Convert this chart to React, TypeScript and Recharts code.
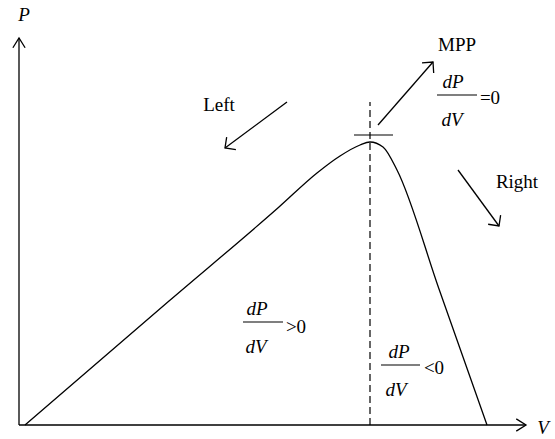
import { LineChart, Line, XAxis, YAxis, ReferenceLine, ReferenceDot } from "recharts";

// P-V curve (V and P in pixel-sized units from the origin)
const curveV = [6, 150, 260, 298, 321, 341, 351, 364, 378, 420, 468];
const curveP = [0, 124, 218, 252, 269, 280, 283, 278, 255, 136, 0];

const mppV = 351;

const chartData = curveV.map((v, i) => ({ v, p: curveP[i] }));

const FONT = "'Liberation Serif', 'DejaVu Serif', serif";

// line with an open chevron at the (x2, y2) end
const arrow = (len: number, spread: number) => (props: any) => {
  const { x1, y1, x2, y2 } = props;
  const a = Math.atan2(y2 - y1, x2 - x1) + Math.PI;
  const b1 = [x2 + len * Math.cos(a + spread), y2 + len * Math.sin(a + spread)];
  const b2 = [x2 + len * Math.cos(a - spread), y2 + len * Math.sin(a - spread)];
  return (
    <g>
      <line x1={x1} y1={y1} x2={x2} y2={y2} stroke="#000" strokeWidth={1.3} />
      <polyline
        points={`${b1[0]},${b1[1]} ${x2},${y2} ${b2[0]},${b2[1]}`}
        fill="none"
        stroke="#000"
        strokeWidth={1.3}
      />
    </g>
  );
};

const axisArrow = arrow(11.5, 0.56);
const noteArrow = arrow(11, 0.78);

function note(key: string, x: number, y: number, text: string, italic = false) {
  return (
    <ReferenceDot
      key={key}
      x={x}
      y={y}
      r={0}
      ifOverflow="visible"
      shape={(p: any) => (
        <text
          x={p.cx}
          y={p.cy}
          dy="0.34em"
          textAnchor="middle"
          fill="#000"
          style={{
            fontFamily: FONT,
            fontSize: 19,
            fontStyle: italic ? "italic" : "normal",
          }}
        >
          {text}
        </text>
      )}
    />
  );
}

function bar(key: string, xa: number, xb: number, y: number) {
  return (
    <ReferenceLine
      key={key}
      segment={[{ x: xa, y }, { x: xb, y }]}
      stroke="#000"
      strokeWidth={1.2}
      ifOverflow="visible"
    />
  );
}

export default function App() {
  return (
    <div style={{ position: "absolute", left: 0, top: 0, background: "#fff" }}>
      <LineChart
        width={555}
        height={439}
        data={chartData}
        margin={{ top: 20, right: 16, bottom: 14, left: 19 }}
      >
        <XAxis type="number" dataKey="v" domain={[0, 520]} hide />
        <YAxis type="number" domain={[0, 405]} hide />

        {/* axes with arrows */}
        <ReferenceLine segment={[{ x: 0, y: 0 }, { x: 507, y: 0 }]} shape={axisArrow} ifOverflow="visible" />
        <ReferenceLine segment={[{ x: 0, y: 0 }, { x: 0, y: 387 }]} shape={axisArrow} ifOverflow="visible" />
        {note("P", 5, 410, "P", true)}
        {note("V", 524, -3, "V", true)}

        {/* MPP marker */}
        <ReferenceLine
          segment={[{ x: mppV, y: 0 }, { x: mppV, y: 323 }]}
          stroke="#000"
          strokeWidth={1.2}
          strokeDasharray="7 4"
          ifOverflow="visible"
        />
        {bar("mppbar", 335, 374, 290)}

        <Line
          type="monotone"
          dataKey="p"
          stroke="#000"
          strokeWidth={1.3}
          dot={false}
          isAnimationActive={false}
        />

        {/* direction arrows */}
        <ReferenceLine segment={[{ x: 359, y: 300 }, { x: 414, y: 363 }]} shape={noteArrow} ifOverflow="visible" />
        <ReferenceLine segment={[{ x: 268, y: 323 }, { x: 206, y: 277 }]} shape={noteArrow} ifOverflow="visible" />
        <ReferenceLine segment={[{ x: 439, y: 255 }, { x: 480, y: 199 }]} shape={noteArrow} ifOverflow="visible" />

        {note("mpp", 438, 380, "MPP")}
        {note("left", 200, 320, "Left")}
        {note("right", 498, 243, "Right")}

        {/* dP/dV = 0 */}
        {note("f1n", 434, 343, "dP", true)}
        {bar("f1b", 418, 458, 330)}
        {note("f1d", 433, 305, "dV", true)}
        {note("f1r", 471, 327, "=0")}

        {/* dP/dV > 0 */}
        {note("f2n", 238, 116, "dP", true)}
        {bar("f2b", 224, 264, 103)}
        {note("f2d", 237, 78, "dV", true)}
        {note("f2r", 277, 98, ">0")}

        {/* dP/dV < 0 */}
        {note("f3n", 380, 73, "dP", true)}
        {bar("f3b", 362, 401, 60)}
        {note("f3d", 377, 35, "dV", true)}
        {note("f3r", 415, 57, "<0")}
      </LineChart>
    </div>
  );
}
